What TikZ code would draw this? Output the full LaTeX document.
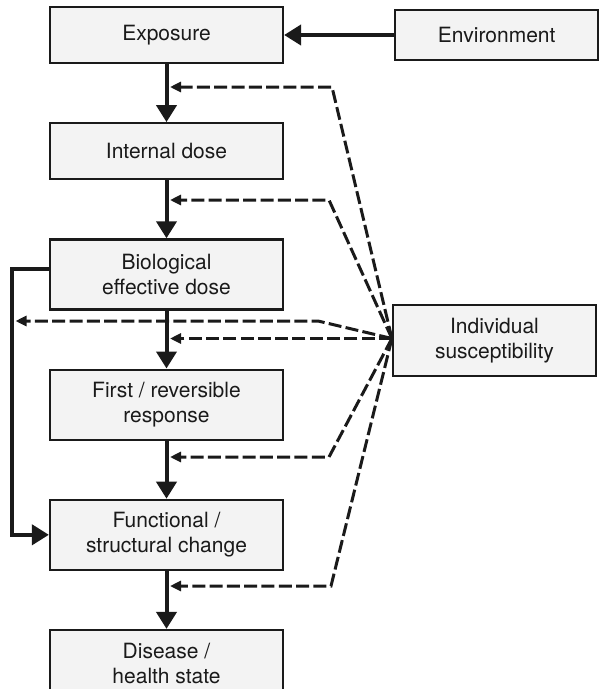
\documentclass[tikz,border=0pt]{standalone}
\usepackage{fontspec}
\setmainfont{TeX Gyre Heros}
\usetikzlibrary{positioning, arrows.meta}
\definecolor{cajagris}{HTML}{F3F3F3}
\definecolor{trazo}{HTML}{1A1A1A}

\begin{document}
\begin{tikzpicture}[x=1pt, y=-1pt, node distance=58pt,
                  caja/.style={draw=trazo, line width=2.2pt, fill=cajagris,
                  minimum width=233pt, minimum height=70pt, inner sep=0pt,
                  align=center, text=trazo,
                  font=\fontsize{21}{24.5}\selectfont},
                  flecha/.style={-{Triangle[length=17pt, width=20pt]},
                  line width=4pt, draw=trazo},
                  punteada/.style={-{Triangle[length=11pt, width=10pt]},
                  line width=3pt, draw=trazo,
                  dash pattern=on 13pt off 4.3pt}]

                  \useasboundingbox (0,0) rectangle (599,689);

                  % Colocamos las cajas de la cadena principal.
                  \node[caja, minimum height=56pt] (exposure) at (166.5,35) {Exposure};
                  \node[caja, minimum height=56pt, below=of exposure] (internal) {Internal dose};
                  \node[caja, below=of internal] (bio) {Biological\\effective dose};
                  \node[caja, below=of bio] (first) {First / reversible\\response};
                  \node[caja, below=of first] (functional) {Functional /\\structural change};
                  \node[caja, minimum height=67pt, below=of functional] (disease) {Disease /\\health state};

                  % Cajas de la derecha.
                  \node[caja, minimum width=203pt, minimum height=50pt,
                  right=110pt of exposure] (environment) {Environment};
                  \node[caja, minimum width=203pt, minimum height=71pt]
                  (suscept) at (494.5,340.5) {Individual\\susceptibility};

                  % Puntos auxiliares de las flechas punteadas.
                  \coordinate (hub) at ([yshift=2pt]suscept.west);
                  \coordinate (c1) at (332,87);
                  \coordinate (c2) at (329,200);
                  \coordinate (c3) at (318,321);
                  \coordinate (c5) at (329,457);
                  \coordinate (c6) at (331,586);
                  \coordinate (e1) at (170,87);
                  \coordinate (e2) at (170,200);
                  \coordinate (e3) at (15.5,321);
                  \coordinate (e5) at (170,457);
                  \coordinate (e6) at (170,586);

                  % Flechas continuas.
                  \draw[flecha] (environment) -- (exposure);
                  \draw[flecha] (exposure) -- (internal);
                  \draw[flecha] (internal) -- (bio);
                  \draw[flecha] (bio) -- (first);
                  \draw[flecha] (first) -- (functional);
                  \draw[flecha] (functional) -- (disease);
                  \draw[flecha] ([yshift=5pt]bio.west) -- ++(-37,0) |- (functional.west);

                  % Flechas punteadas desde la susceptibilidad.
                  \draw[punteada] (hub) -- (c1) -- (e1);
                  \draw[punteada] (hub) -- (c2) -- (e2);
                  \draw[punteada] (hub) -- (c3) -- (e3);
                  \draw[punteada] (hub) -- (hub -| e1);
                  \draw[punteada] (hub) -- (c5) -- (e5);
                  \draw[punteada] (hub) -- (c6) -- (e6);

                \end{tikzpicture}
\end{document}
